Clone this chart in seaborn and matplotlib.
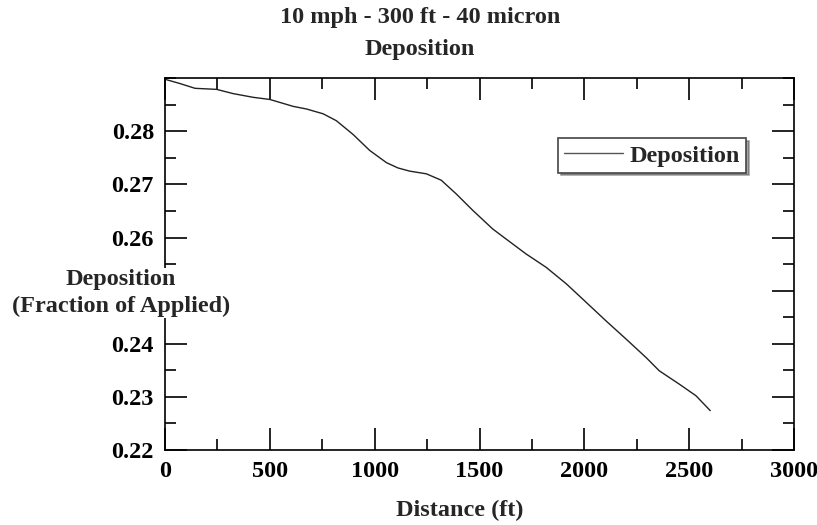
import numpy as np
import pandas as pd
import seaborn as sns
import matplotlib.pyplot as plt
from matplotlib.ticker import MultipleLocator

# deposition curve
distance = [0, 71, 143, 246, 325, 421, 500, 611, 675, 754, 817, 897, 976,
            1056, 1111, 1167, 1246, 1317, 1389, 1468, 1563, 1627, 1722, 1817,
            1913, 1992, 2103, 2198, 2294, 2357, 2452, 2532, 2600]
deposition = [0.2898, 0.2890, 0.2881, 0.2879, 0.2871, 0.2864, 0.2860, 0.2847,
              0.2842, 0.2833, 0.2820, 0.2794, 0.2764, 0.2741, 0.2731, 0.2725,
              0.2720, 0.2708, 0.2682, 0.2651, 0.2616, 0.2597, 0.2569, 0.2544,
              0.2513, 0.2484, 0.2443, 0.2409, 0.2374, 0.2349, 0.2324, 0.2302,
              0.2274]

x_ticks = [0, 500, 1000, 1500, 2000, 2500, 3000]
y_ticks = [0.22, 0.23, 0.24, 0.25, 0.26, 0.27, 0.28]
# 0.25 sits under the axis title in the original
y_ticklabels = ['0.22', '0.23', '0.24', '', '0.26', '0.27', '0.28']


def main():
    sns.set_style('ticks')
    plt.rcParams['font.family'] = ['Liberation Serif', 'DejaVu Serif']
    plt.rcParams['font.weight'] = 'bold'
    fs = 17.5

    df = pd.DataFrame({'Distance': distance, 'Deposition': deposition})

    fig = plt.figure(figsize=(8.17, 5.25), dpi=100)
    ax = fig.add_axes([0.202, 0.143, 0.770, 0.708])

    sns.lineplot(data=df, x='Distance', y='Deposition', color='#222222',
                 linewidth=1.0, label='Deposition', ax=ax)

    ax.set_xlim(0, 3000)
    ax.set_ylim(0.22, 0.29)
    ax.set_xticks(x_ticks)
    ax.set_yticks(y_ticks)
    ax.set_xticklabels([str(v) for v in x_ticks])
    ax.set_yticklabels(y_ticklabels)
    ax.xaxis.set_minor_locator(MultipleLocator(250))
    ax.yaxis.set_minor_locator(MultipleLocator(0.005))
    ax.tick_params(which='both', direction='in', top=True, right=True,
                   width=1.2, labelsize=fs, colors='black')
    ax.tick_params(which='major', length=16, pad=8)
    ax.tick_params(which='minor', length=8)
    for lbl in ax.get_xticklabels() + ax.get_yticklabels():
        lbl.set_fontweight('bold')
    for s in ax.spines.values():
        s.set_linewidth(1.2)
        s.set_color('black')
    ax.set_xlabel('')
    ax.set_ylabel('')

    leg = ax.legend(loc='upper left', bbox_to_anchor=(0.625, 0.838),
                    borderaxespad=0, fancybox=False, shadow=True,
                    edgecolor='#444444', framealpha=1, handlelength=2.4,
                    prop={'size': fs, 'weight': 'bold'}, borderpad=0.25,
                    handletextpad=0.3)
    leg.get_frame().set_linewidth(1.2)
    leg.get_lines()[0].set_color('#555555')

    fig.text(420 / 817, 1 - 18 / 525, '10 mph - 300 ft - 40 micron',
             ha='center', va='center', fontsize=fs, fontweight='bold')
    fig.text(420 / 817, 1 - 50 / 525, 'Deposition',
             ha='center', va='center', fontsize=fs, fontweight='bold')
    fig.text(460 / 817, 1 - 510 / 525, 'Distance (ft)',
             ha='center', va='center', fontsize=fs, fontweight='bold')
    fig.text(121 / 817, 1 - 293 / 525, 'Deposition\n(Fraction of Applied)',
             ha='center', va='center', fontsize=fs, fontweight='bold',
             linespacing=1.3, zorder=5,
             bbox=dict(facecolor='white', edgecolor='none', pad=1))

    fig.savefig('out.png', dpi=100)


if __name__ == '__main__':
    main()
